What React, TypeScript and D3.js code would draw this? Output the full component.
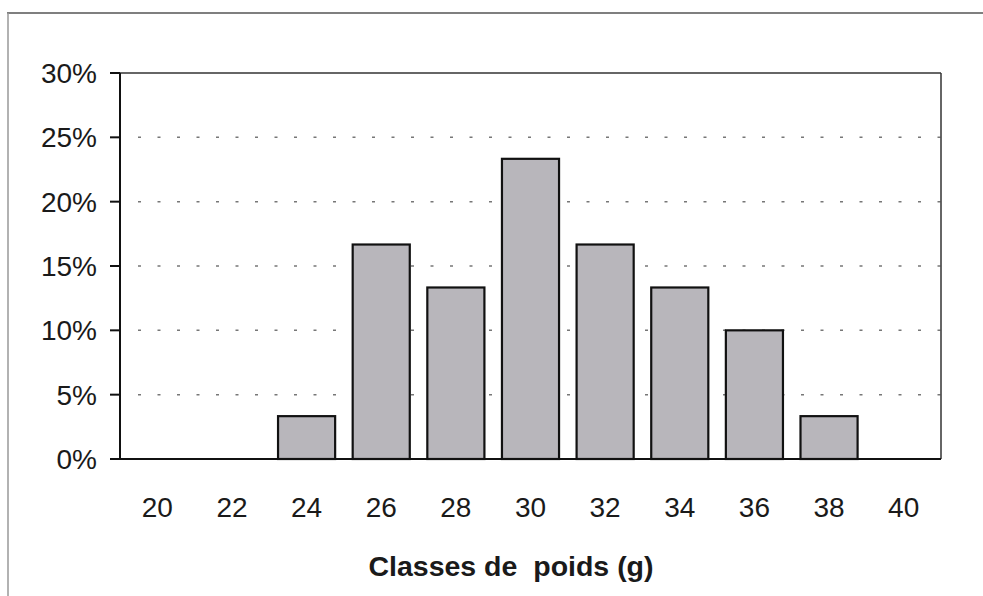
import React from "react";
import * as d3 from "d3";

const categories = ["20", "22", "24", "26", "28", "30", "32", "34", "36", "38", "40"];
const percents = [0, 0, 3.33, 16.67, 13.33, 23.33, 16.67, 13.33, 10, 3.33, 0];
const yTicks = [0, 5, 10, 15, 20, 25, 30];
const xTitle = "Classes de  poids (g)";

const W = 983;
const H = 596;
const m = { left: 120, right: 941, top: 73, bottom: 459 };

export default function App() {
  const x = d3
    .scaleBand<string>()
    .domain(categories)
    .range([m.left, m.right])
    .paddingInner(0.235)
    .paddingOuter(0.1175);
  const y = d3.scaleLinear().domain([0, 30]).range([m.bottom, m.top]);
  const font = "'Liberation Sans', Arial, Helvetica, sans-serif";

  return (
    <svg
      width={W}
      height={H}
      style={{ position: "absolute", left: 0, top: 0, background: "#fff" }}
      fontFamily={font}
    >
      <rect x={0} y={0} width={W} height={H} fill="#fff" />
      {/* outer frame */}
      <line x1={7} x2={W} y1={13} y2={13} stroke="#555" strokeWidth={1.5} />
      <line x1={8} x2={8} y1={13} y2={H} stroke="#999" strokeWidth={1.5} />

      {/* gridlines */}
      {yTicks
        .filter((t) => t > 0 && t < 30)
        .map((t) => (
          <line
            key={"g" + t}
            x1={m.left + 18}
            x2={m.right}
            y1={y(t)}
            y2={y(t)}
            stroke="#777"
            strokeWidth={1.5}
            strokeDasharray="3 16.5"
          />
        ))}

      {/* bars */}
      {categories.map((c, i) =>
        percents[i] > 0 ? (
          <rect
            key={"b" + c}
            x={x(c)}
            y={y(percents[i])}
            width={x.bandwidth()}
            height={y(0) - y(percents[i])}
            fill="#b8b6bb"
            stroke="#111"
            strokeWidth={2.2}
          />
        ) : null
      )}

      {/* plot border top & right */}
      <line x1={m.left} x2={m.right} y1={m.top} y2={m.top} stroke="#333" strokeWidth={1.5} />
      <line x1={m.right} x2={m.right} y1={m.top} y2={m.bottom} stroke="#333" strokeWidth={1.5} />
      {/* axes */}
      <line x1={m.left} x2={m.left} y1={m.top} y2={m.bottom} stroke="#111" strokeWidth={2} />
      <line x1={m.left} x2={m.right} y1={m.bottom} y2={m.bottom} stroke="#111" strokeWidth={2} />

      {/* y ticks and labels */}
      {yTicks.map((t) => (
        <g key={"t" + t}>
          <line x1={m.left - 10} x2={m.left} y1={y(t)} y2={y(t)} stroke="#111" strokeWidth={2} />
          <text
            x={97}
            y={y(t) + 10}
            textAnchor="end"
            fontSize={28}
            fill="#1a1a1a"
          >
            {t + "%"}
          </text>
        </g>
      ))}

      {/* x labels */}
      {categories.map((c) => (
        <text
          key={"x" + c}
          x={(x(c) as number) + x.bandwidth() / 2}
          y={517}
          textAnchor="middle"
          fontSize={28}
          fill="#1a1a1a"
        >
          {c}
        </text>
      ))}

      {/* x title */}
      <text
        x={511}
        y={576}
        textAnchor="middle"
        fontSize={28.5}
        fontWeight="bold"
        fill="#1a1a1a"
        style={{ whiteSpace: "pre" }}
      >
        {xTitle}
      </text>
    </svg>
  );
}
